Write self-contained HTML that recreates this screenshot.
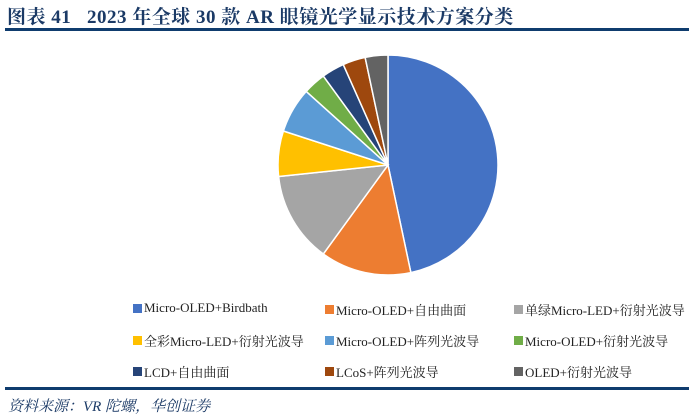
<!DOCTYPE html>
<html><head><meta charset="utf-8"><style>
body{margin:0;width:691px;height:419px;background:#fff;overflow:hidden;position:relative;font-family:"Liberation Serif","Noto Serif CJK SC",serif}
#title{position:absolute;left:7px;top:2px;font-size:19px;font-weight:bold;color:#1b3a66;white-space:nowrap;letter-spacing:0.5px}
.rule{position:absolute;left:5px;width:684px;height:3px;background:#0f3c6e}
.leg{position:absolute;font-size:13px;color:#222;white-space:nowrap;display:flex;align-items:center}
.sw{width:9px;height:9px;display:inline-block;margin-right:2px}
#src{position:absolute;left:8px;top:395px;font-size:15px;font-style:italic;color:#1b3a66;white-space:nowrap}
</style></head><body>
<div id="title">图表 41&nbsp;&nbsp; 2023 年全球 30 款 AR 眼镜光学显示技术方案分类</div>
<div class="rule" style="top:28px"></div>
<svg id="pie" width="691" height="419" style="position:absolute;left:0;top:0"></svg>
<div id="legend"></div>
<div class="rule" style="top:387px"></div>
<div id="src">资料来源：VR 陀螺，华创证券</div>
<script>
const categories=["Micro-OLED+Birdbath","Micro-OLED+自由曲面","单绿Micro-LED+衍射光波导","全彩Micro-LED+衍射光波导","Micro-OLED+阵列光波导","Micro-OLED+衍射光波导","LCD+自由曲面","LCoS+阵列光波导","OLED+衍射光波导"];
const values=[14,4,4,2,2,1,1,1,1];
const colors=["#4472C4","#ED7D31","#A5A5A5","#FFC000","#5B9BD5","#70AD47","#264478","#9E480E","#636363"];
const cx=388,cy=165,r=110;
const svg=document.getElementById('pie');
const total=values.reduce((a,b)=>a+b,0);
let a0=0;
values.forEach((v,i)=>{
  const a1=a0+v/total*2*Math.PI;
  const x0=cx+r*Math.sin(a0),y0=cy-r*Math.cos(a0),x1=cx+r*Math.sin(a1),y1=cy-r*Math.cos(a1);
  const p=document.createElementNS('http://www.w3.org/2000/svg','path');
  p.setAttribute('d',`M${cx},${cy}L${x0},${y0}A${r},${r} 0 ${a1-a0>Math.PI?1:0} 1 ${x1},${y1}Z`);
  p.setAttribute('fill',colors[i]);p.setAttribute('stroke','#fff');p.setAttribute('stroke-width','1.5');
  
  
  svg.appendChild(p);a0=a1;
});
const lg=document.getElementById('legend');
const colX=[133,325,514],rowY=[300,331,362];
categories.forEach((c,i)=>{
  const d=document.createElement('div');d.className='leg';
  d.style.left=colX[i%3]+'px';d.style.top=rowY[Math.floor(i/3)]+'px';
  d.innerHTML=`<span class="sw" style="background:${colors[i]}"></span>${c}`;
  
  
  lg.appendChild(d);
});
</script>
</body></html>
